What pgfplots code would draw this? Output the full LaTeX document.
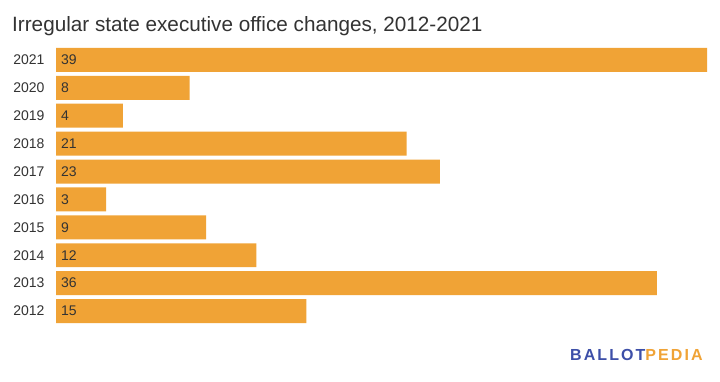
\documentclass[border=0pt]{standalone}
\usepackage{pgfplots}
\pgfplotsset{compat=1.18}
\usepackage{pgfplotstable}
\usepackage{fontspec}
\setmainfont{Liberation Sans}
\newfontfamily\logofont[LetterSpace=13]{Liberation Sans}
\definecolor{barc}{HTML}{F0A336}
\definecolor{txt}{HTML}{333333}
\definecolor{logoblue}{HTML}{3D4FA8}
\pgfplotstableread{
y year v
0 2012 15
1 2013 36
2 2014 12
3 2015 9
4 2016 3
5 2017 23
6 2018 21
7 2019 4
8 2020 8
9 2021 39
}\datatable
\begin{document}
\begin{tikzpicture}
\path[use as bounding box, fill=white] (0,0) rectangle (720pt,381pt);
\node[anchor=base west, inner sep=0pt, text=txt, font=\fontsize{20.7}{24}\selectfont] at (12pt,349.5pt) {Irregular state executive office changes, 2012-2021};
\begin{axis}[
  at={(56pt,56pt)}, anchor=south west,
  scale only axis, width=651pt, height=279pt,
  xmin=0, xmax=39, ymin=-0.5, ymax=9.5,
  axis line style={draw=none},
  xtick=\empty,
  ytick={0,...,9},
  yticklabels={2012,2013,2014,2015,2016,2017,2018,2019,2020,2021},
  major tick length=0pt,
  /pgf/number format/assume math mode=true,
  yticklabel style={font=\fontsize{14}{16}\selectfont, text=txt, xshift=-8pt},
  clip=false,
]
\addplot[xbar, bar width=0.86, fill=barc, draw=none] table[x=v, y=y] {\datatable};
\addplot[draw=none, mark=none, nodes near coords, point meta=\thisrow{v},
  every node near coord/.append style={anchor=west, font=\fontsize{14}{16}\selectfont, text=txt, xshift=1.5pt}]
  table[x expr=0, y=y] {\datatable};
\end{axis}
\node[anchor=base west, inner sep=0pt, font=\logofont\bfseries\fontsize{16}{18}\selectfont] at (570pt,21pt) {\textcolor{logoblue}{BALLOT}\textcolor{barc}{PEDIA}};
\end{tikzpicture}
\end{document}
